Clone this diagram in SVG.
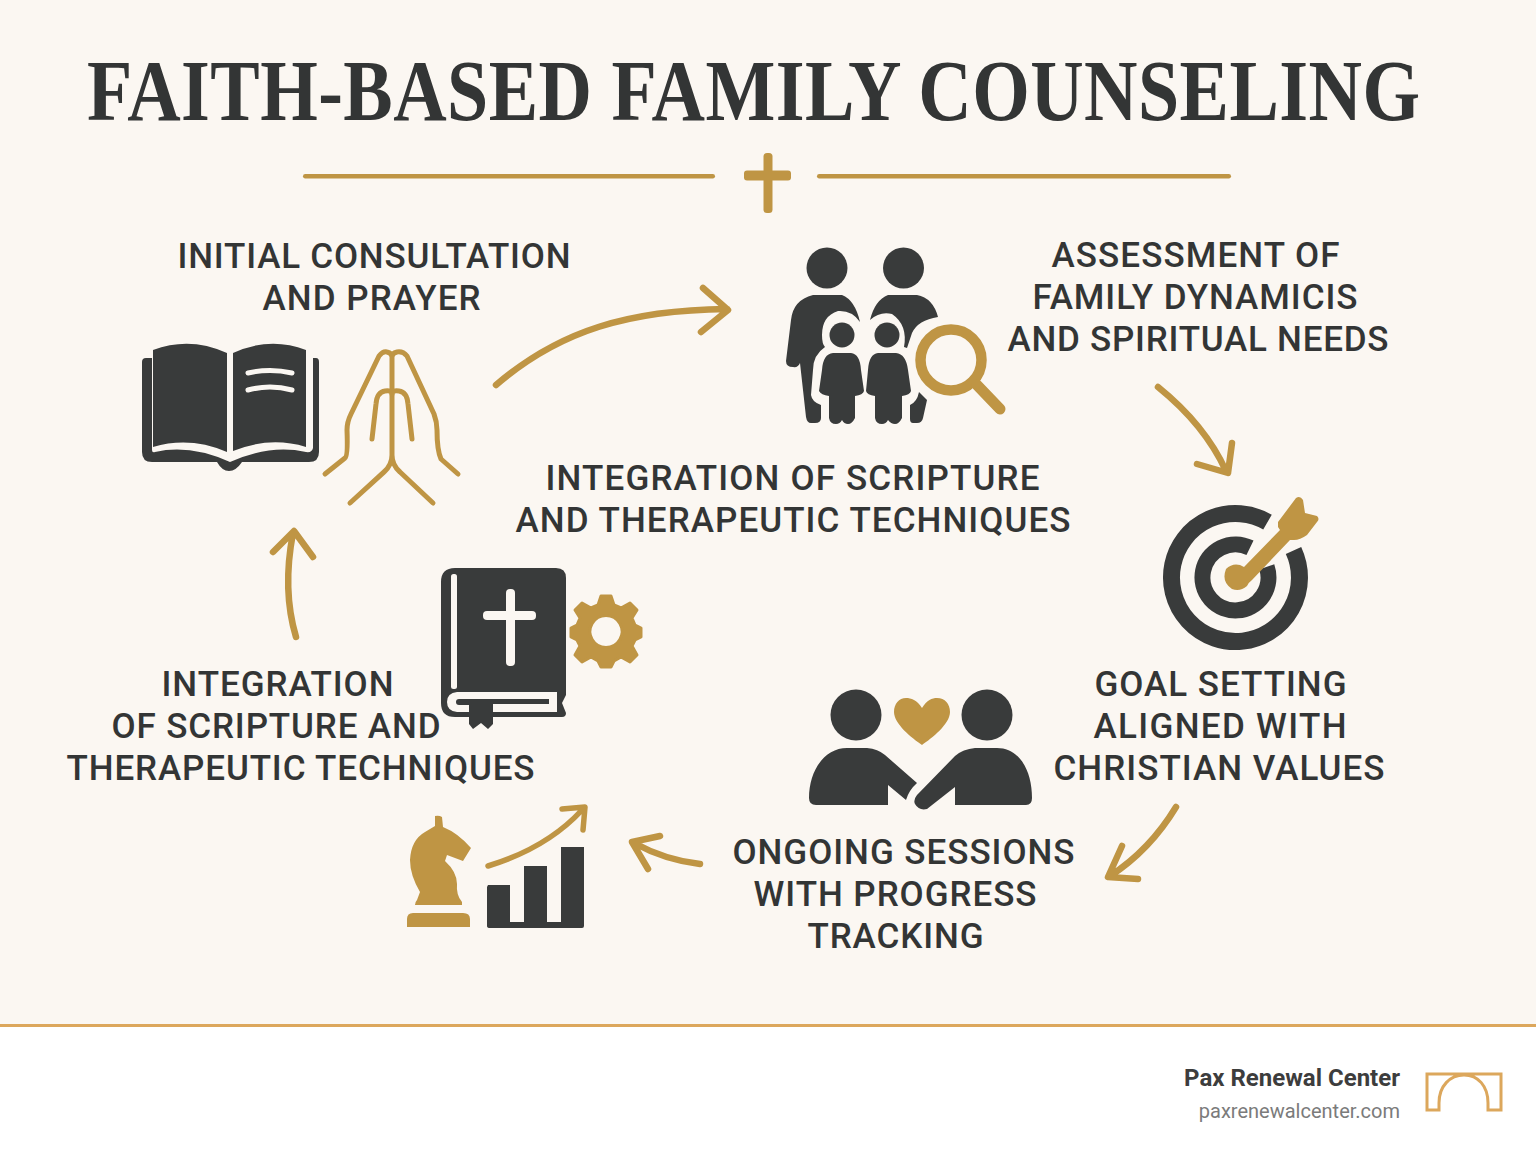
<svg xmlns="http://www.w3.org/2000/svg" width="1536" height="1154" viewBox="0 0 1536 1154">
<style>
.lb{font:500 35px Roboto,"Liberation Sans",sans-serif;fill:#333535}
.ti{font:700 74px "Liberation Serif",serif;fill:#333535}
.d{fill:#393b3b}
.g{fill:#bf9544}
.bgf{fill:#fbf7f2}
.gs{fill:none;stroke:#bf9544;stroke-linecap:round;stroke-linejoin:round}
.cn{fill:none;stroke:#bf9544;stroke-width:6.500;stroke-linecap:round;stroke-linejoin:round}
.ws{fill:none;stroke:#fbf7f2;stroke-width:5;stroke-linecap:round}
</style>
<rect width="1536" height="1154" fill="#fbf7f2"/>
<g id="footer">
<rect y="1026" width="1536" height="128" fill="#fff"/>
<rect y="1024" width="1536" height="3" fill="#dca75c"/>
<text x="1400" y="1086" text-anchor="end" style="font:700 24px Roboto,sans-serif;fill:#3d3d3d">Pax Renewal Center</text>
<text x="1400" y="1118" text-anchor="end" style="font:400 20px Roboto,sans-serif;fill:#7b7b7b">paxrenewalcenter.com</text>
<path d="M1427 1074H1501V1110H1488V1103C1488 1086 1478 1075 1464 1075C1450 1075 1439 1086 1439 1103V1110H1427Z" fill="none" stroke="#dca75c" stroke-width="3"/>
</g>
<g id="title">
<text class="ti" transform="translate(87 120) scale(1 1.16)" textLength="1333" lengthAdjust="spacing">FAITH-BASED FAMILY COUNSELING</text>
<g fill="#bf9544">
<rect x="303" y="174" width="412" height="4.500" rx="2.200"/>
<rect x="817" y="174" width="414" height="4.500" rx="2.200"/>
<rect x="763.500" y="153" width="9" height="60" rx="3.500"/>
<rect x="744" y="170.500" width="47" height="10" rx="3"/>
</g>
</g>
<g id="connectors">
<path class="cn" d="M496 385C560 330 630 310 727 309M703 288L728 310L701 332"/>
<path class="cn" d="M1158 387Q1205 425 1226 471M1197 464L1228 473L1232 443"/>
<path class="cn" d="M1176 807Q1150 850 1110 876M1122 846L1108 877L1138 879"/>
<path class="cn" d="M700 864Q665 860 634 843M660 836L632 842L648 869"/>
<path class="cn" d="M296 637Q282 590 293 533M273 552L294 531L313 557"/>
</g>
<g id="node-consultation">
<text class="lb" x="177.500" y="268" textLength="393" lengthAdjust="spacing">INITIAL CONSULTATION</text>
<text class="lb" x="262.500" y="310" textLength="218" lengthAdjust="spacing">AND PRAYER</text>
<path class="d" d="M142 362Q142 358 146 358H152V450Q152 453 155 452Q190 444 230 462Q270 444 306 452Q312 453 313 448V358H316Q319 358 319 362V452Q319 462 309 462H242Q236 471 229 471Q222 471 217 462H152Q142 462 142 452Z"/>
<path class="d" d="M153 350Q190 336 227 353V452Q190 436 153 447Z"/>
<path class="d" d="M233 353Q270 336 306 350V447Q270 436 233 451Z"/>
<path class="ws" style="stroke-width:5" d="M248 373Q270 368 292 373M248 390Q270 384 292 390"/>
<g class="gs" style="stroke-width:5">
<path d="M325 474L345 458Q348 456 347 430Q347 422 351 414L379 356Q383 351 387 352Q392 353 392 357V455Q392 465 384 472L350 503M392 455Q392 465 400 472L433 503M392 357Q392 353 397 352Q403 351 407 356L434 414Q437 422 437 430Q437 450 441 459L458 474"/>
<path d="M372 439L376 404Q377 392 385 391Q392 390 392 394Q392 390 399 391Q407 392 408 404L412 439"/>
</g>
</g>
<g id="node-assessment">
<text class="lb" x="1051.500" y="267" textLength="288" lengthAdjust="spacing">ASSESSMENT OF</text>
<text class="lb" x="1032.500" y="309" textLength="325" lengthAdjust="spacing">FAMILY DYNAMICIS</text>
<text class="lb" x="1007.500" y="351" textLength="381" lengthAdjust="spacing">AND SPIRITUAL NEEDS</text>
<circle class="d" cx="827" cy="268" r="20.500"/>
<circle class="d" cx="903.500" cy="268" r="20.500"/>
<circle class="d" cx="842" cy="335" r="12.500"/>
<circle class="d" cx="887" cy="335" r="12.500"/>
<path class="d" d="M813 295H842Q855 300 860 322Q852 310 838 311Q822 316 822 335Q822 344 825 347Q813 355 813 370L811 395Q812 402 821 405V418Q821 423 815 423H811Q807 423 806 417L800 363Q798 368 793 367Q786 367 786 361L791 320Q793 300 813 295Z"/>
<path class="d" d="M870 320Q875 300 888 295H917Q933 298 938 317Q918 320 912 333L907 348L904 347Q908 325 892 314Q880 311 870 320Z"/>
<path class="d" d="M919 392L927 400L923 418Q922 423 917 423H913Q910 423 910 419V405Q917 402 919 392Z"/>
<path class="d" d="M833 353H851Q860 354 861 370L864 391Q863 395 855 396V418Q852 424 848 424Q844 424 842 420Q840 424 836 424Q830 424 829 418V396Q821 395 819 391L822 370Q823 354 833 353Z"/>
<path class="d" d="M878 353H896Q906 354 908 370L911 391Q910 395 902 396V418Q899 424 895 424Q891 424 888 420Q886 424 882 424Q876 424 875 418V396Q867 395 866 391L868 370Q869 354 878 353Z"/>
<circle cx="951" cy="360" r="30.500" fill="none" stroke="#bf9544" stroke-width="10.500"/>
<path class="gs" style="stroke-width:11" d="M977 385L1000 409"/>
</g>
<g id="node-integration-center">
<text class="lb" x="545.500" y="490" textLength="494" lengthAdjust="spacing">INTEGRATION OF SCRIPTURE</text>
<text class="lb" x="515.500" y="532" textLength="555" lengthAdjust="spacing">AND THERAPEUTIC TECHNIQUES</text>
</g>
<g id="node-goal">
<text class="lb" x="1094.500" y="696" textLength="252" lengthAdjust="spacing">GOAL SETTING</text>
<text class="lb" x="1093.500" y="738" textLength="253" lengthAdjust="spacing">ALIGNED WITH</text>
<text class="lb" x="1053.500" y="780" textLength="331" lengthAdjust="spacing">CHRISTIAN VALUES</text>
<path fill="none" stroke="#393b3b" stroke-width="17" d="M1267.500 522.100A64 64 0 1 0 1293.500 550.500"/>
<path fill="none" stroke="#393b3b" stroke-width="16" d="M1250 547.800A33 33 0 1 0 1266.700 566.800"/>
<path class="g" d="M1226 569Q1232 563 1240 565L1244 567L1280 530L1278 527V522L1296 498Q1300 495 1303 500L1305 513L1317 516Q1320 519 1317 522L1307 535Q1300 540 1294 540L1290 540L1252 580Q1248 583 1247 586Q1240 592 1232 589Q1221 582 1226 569Z"/>
</g>
<g id="node-sessions">
<text class="lb" x="732.500" y="864" textLength="342" lengthAdjust="spacing">ONGOING SESSIONS</text>
<text class="lb" x="753.500" y="906" textLength="283" lengthAdjust="spacing">WITH PROGRESS</text>
<text class="lb" x="807.500" y="948" textLength="176" lengthAdjust="spacing">TRACKING</text>
<circle class="d" cx="856" cy="715" r="25.500"/>
<circle class="d" cx="987" cy="715" r="25.500"/>
<path class="g" d="M922 708C917 700 911 698 906 698C899 698 894 704 894 712C894 724 912 738 922 745C932 738 950 724 950 712C950 704 945 698 937 698C932 698 927 700 922 708Z"/>
<path class="d" d="M847 748H867Q878 749 885 755L917 783Q909 790 906 800L888 785V805H816Q809 805 809 798C809 770 825 748 847 748Z"/>
<path class="d" d="M997 748H975Q963 749 955 756L917 795Q913 800 915 804Q919 811 927 809L955 787V805H1026Q1032 805 1032 798C1032 770 1019 748 997 748Z"/>
</g>
<g id="node-progress">
<path class="g" d="M407 927V919Q407 913 413 913H463Q470 913 470 919V927Z"/>
<path class="g" d="M415 905Q415 902 417 900L420 892Q410 875 410 860Q411 840 425 832L435 826L435 816Q439 815 442 817L443 827Q458 833 471 848L463 861L447 855L445 861Q457 872 457 884Q456 895 462 902V905Z"/>
<path class="d" d="M488 885H510V922H524V866H547V922H561V847H584V926Q584 928 582 928H490Q487 928 487 926V887Z"/>
<path class="gs" style="stroke-width:5.500" d="M488 866Q547 848 582 810M562 809L585 807L583 830"/>
</g>
<g id="node-integration-left">
<text class="lb" x="161.500" y="696" textLength="232" lengthAdjust="spacing">INTEGRATION</text>
<text class="lb" x="111.500" y="738" textLength="329" lengthAdjust="spacing">OF SCRIPTURE AND</text>
<text class="lb" x="66.500" y="780" textLength="468" lengthAdjust="spacing">THERAPEUTIC TECHNIQUES</text>
<path class="d" d="M441 582Q441 568 455 568H556Q566 568 566 578V695L562 703L566 713Q566 717 562 717H493V724L488 729L481 723L473 729L469 724V717H455Q441 717 441 703Z"/>
<rect class="bgf" x="451" y="574" width="6" height="115" rx="2.500"/>
<path class="bgf" d="M557 692H457Q447 693 447 702Q447 711 457 712H469V705H459Q456 705 456 702Q456 699 459 699H549V704H493V712H557Z"/>
<rect class="bgf" x="506" y="589" width="9" height="77" rx="4"/>
<rect class="bgf" x="483" y="611" width="53" height="9" rx="4"/>
<g id="gear" class="g">
<path fill-rule="evenodd" d="M601 596H611L614 605L621 608L630 603L637 610L632 618L635 625L641 628V637L635 640L632 646L637 655L630 662L621 657L614 661L611 667H601L598 661L591 657L582 662L575 655L580 646L577 640L571 637V628L577 625L580 618L575 610L582 603L591 608L598 605ZM606 615.500A16 16 0 1 0 606.010 615.500Z" stroke="#bf9544" stroke-width="3" stroke-linejoin="round"/>
</g>
</g>
</svg>
